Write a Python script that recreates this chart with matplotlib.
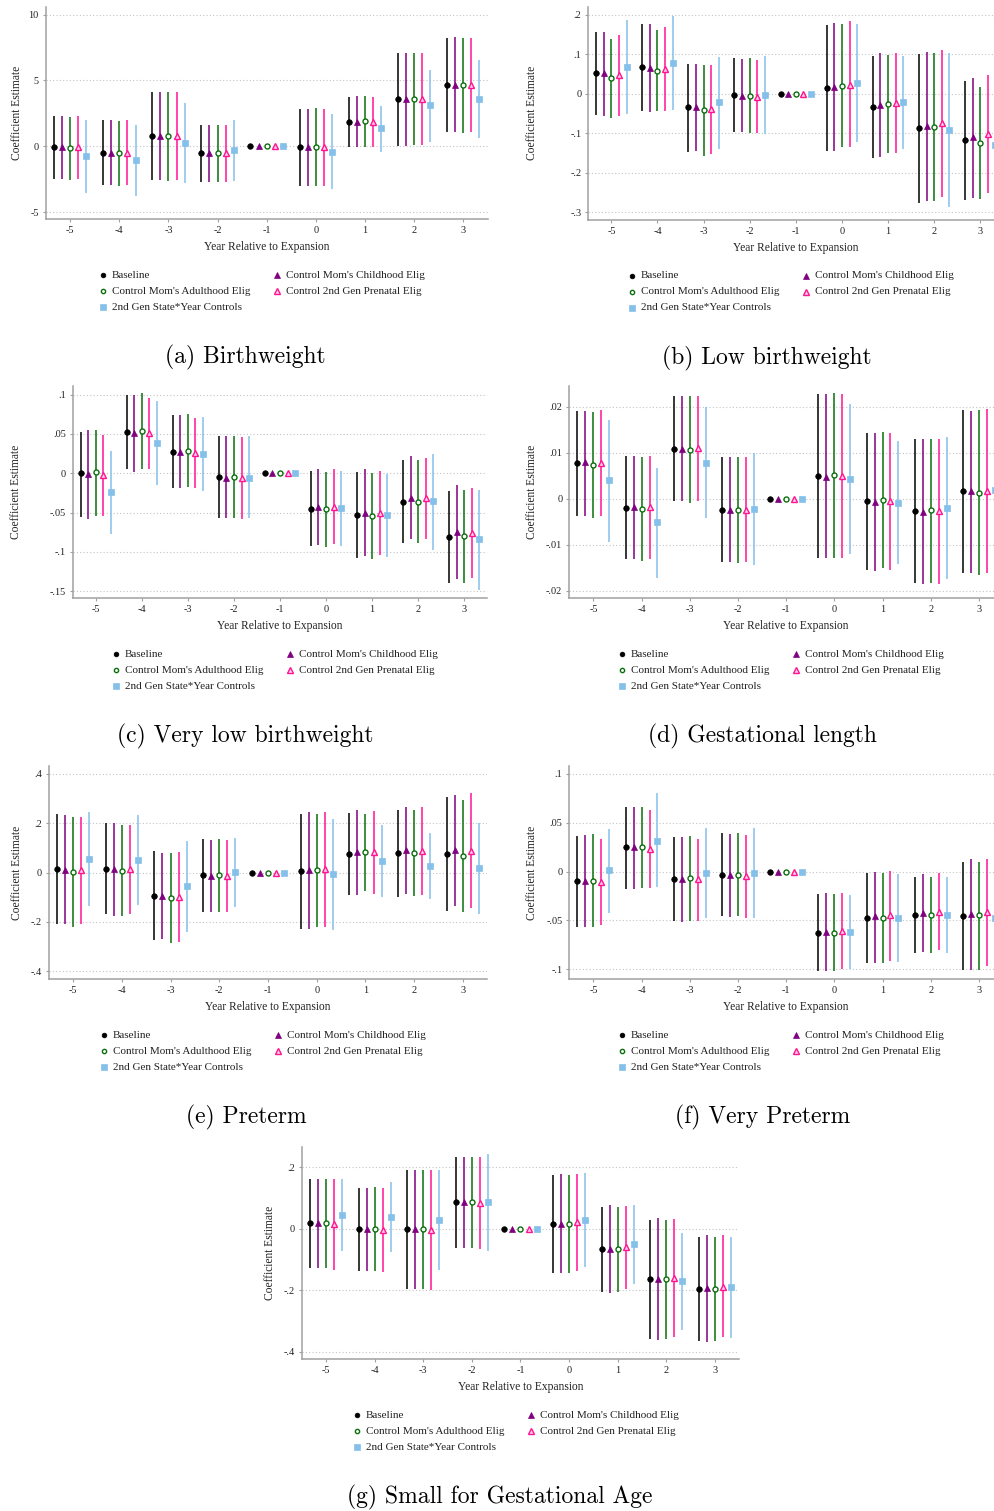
import numpy as np
import matplotlib.pyplot as plt

plt.rcParams['font.family'] = ['Liberation Serif', 'DejaVu Serif']

years = [-5, -4, -3, -2, -1, 0, 1, 2, 3]
year_labels = [str(y) for y in years]
series_names = ["Baseline", "Control Mom's Childhood Elig", "Control Mom's Adulthood Elig",
                "Control 2nd Gen Prenatal Elig", "2nd Gen State*Year Controls"]

# rows = series (same order as series_names), columns = years
# (a) Birthweight
bw_est = [[-0.08, -0.49, 0.80, -0.54, 0, -0.06, 1.86, 3.56, 4.67],
          [-0.08, -0.49, 0.80, -0.51, 0, -0.06, 1.86, 3.56, 4.67],
          [-0.16, -0.54, 0.75, -0.54, 0, -0.03, 1.89, 3.59, 4.65],
          [-0.06, -0.49, 0.80, -0.51, 0, -0.06, 1.86, 3.56, 4.65],
          [-0.77, -1.07, 0.22, -0.31, 0, -0.41, 1.36, 3.10, 3.56]]
bw_lo = [[-2.50, -2.97, -2.57, -2.72, 0, -3.02, -0.03, 0.04, 1.10],
         [-2.50, -2.97, -2.57, -2.72, 0, -3.02, -0.08, 0.04, 1.05],
         [-2.57, -3.02, -2.62, -2.72, 0, -3.00, -0.03, 0.07, 1.03],
         [-2.50, -2.97, -2.57, -2.72, 0, -3.02, -0.03, 0.09, 1.10],
         [-3.53, -3.76, -2.82, -2.62, 0, -3.28, -0.41, 0.35, 0.60]]
bw_hi = [[2.30, 2.00, 4.14, 1.61, 0, 2.85, 3.77, 7.11, 8.22],
         [2.30, 2.00, 4.14, 1.61, 0, 2.85, 3.82, 7.11, 8.27],
         [2.25, 1.94, 4.09, 1.61, 0, 2.88, 3.82, 7.11, 8.20],
         [2.30, 2.00, 4.14, 1.61, 0, 2.85, 3.77, 7.06, 8.20],
         [2.00, 1.61, 3.25, 2.00, 0, 2.45, 3.05, 5.79, 6.55]]
bw_yticks = [-5, 0, 5, 10]
bw_ylabels = ['-5', '0', '5', '10']

# (b) Low birthweight
lbw_est = [[0.052, 0.067, -0.034, -0.004, 0, 0.015, -0.034, -0.088, -0.118],
           [0.052, 0.066, -0.034, -0.005, 0, 0.018, -0.029, -0.082, -0.110],
           [0.039, 0.058, -0.042, -0.005, 0, 0.020, -0.025, -0.085, -0.125],
           [0.047, 0.063, -0.039, -0.008, 0, 0.022, -0.024, -0.075, -0.101],
           [0.067, 0.077, -0.022, -0.004, 0, 0.026, -0.022, -0.093, -0.131]]
lbw_lo = [[-0.054, -0.043, -0.147, -0.097, 0, -0.144, -0.163, -0.276, -0.269],
          [-0.056, -0.046, -0.145, -0.098, 0, -0.144, -0.161, -0.272, -0.263],
          [-0.061, -0.044, -0.158, -0.100, 0, -0.136, -0.149, -0.272, -0.266],
          [-0.056, -0.045, -0.153, -0.100, 0, -0.136, -0.151, -0.262, -0.252],
          [-0.052, -0.042, -0.141, -0.103, 0, -0.121, -0.139, -0.286, -0.280]]
lbw_hi = [[0.156, 0.176, 0.076, 0.089, 0, 0.174, 0.096, 0.100, 0.032],
          [0.156, 0.176, 0.074, 0.087, 0, 0.178, 0.102, 0.106, 0.039],
          [0.139, 0.160, 0.072, 0.090, 0, 0.176, 0.097, 0.102, 0.016],
          [0.149, 0.168, 0.072, 0.085, 0, 0.183, 0.102, 0.110, 0.047],
          [0.186, 0.196, 0.094, 0.095, 0, 0.176, 0.095, 0.102, 0.020]]
lbw_yticks = [-0.3, -0.2, -0.1, 0, 0.1, 0.2]
lbw_ylabels = ['-.3', '-.2', '-.1', '0', '.1', '.2']

# (c) Very low birthweight
vlbw_est = [[0.000, 0.052, 0.027, -0.0050, 0, -0.0450, -0.0530, -0.0360, -0.0810],
            [-0.0015, 0.051, 0.027, -0.0057, 0, -0.0435, -0.0500, -0.0310, -0.0750],
            [0.001, 0.054, 0.028, -0.0044, 0, -0.0456, -0.0545, -0.0360, -0.0800],
            [-0.002, 0.051, 0.026, -0.0057, 0, -0.0430, -0.0500, -0.0320, -0.0755],
            [-0.024, 0.039, 0.024, -0.0057, 0, -0.0447, -0.0536, -0.0358, -0.0842]]
vlbw_lo = [[-0.055, 0.0050, -0.019, -0.057, 0, -0.0920, -0.108, -0.089, -0.139],
           [-0.058, 0.0015, -0.019, -0.057, 0, -0.0915, -0.105, -0.084, -0.135],
           [-0.054, 0.0058, -0.018, -0.057, 0, -0.0935, -0.109, -0.089, -0.139],
           [-0.054, 0.0058, -0.019, -0.058, 0, -0.0900, -0.104, -0.083, -0.133],
           [-0.077, -0.0155, -0.023, -0.057, 0, -0.0920, -0.107, -0.097, -0.148]]
vlbw_hi = [[0.053, 0.100, 0.074, 0.0480, 0, 0.0024, 0.0015, 0.0170, -0.023],
           [0.055, 0.100, 0.074, 0.0470, 0, 0.0050, 0.0050, 0.0220, -0.015],
           [0.055, 0.102, 0.075, 0.0470, 0, 0.0015, 0.0000, 0.0164, -0.021],
           [0.049, 0.096, 0.070, 0.0465, 0, 0.0050, 0.0024, 0.0190, -0.019],
           [0.028, 0.092, 0.071, 0.0470, 0, 0.0024, -0.0010, 0.0244, -0.021]]
vlbw_yticks = [-0.15, -0.1, -0.05, 0, 0.05, 0.1]
vlbw_ylabels = ['-.15', '-.1', '-.05', '0', '.05', '.1']

# (d) Gestational length
gest_est = [[0.0077, -0.0019, 0.0109, -0.0024, 0, 0.0049, -0.0005, -0.0027, 0.0016],
            [0.0079, -0.0018, 0.0109, -0.0024, 0, 0.0048, -0.0006, -0.0028, 0.0016],
            [0.0073, -0.0022, 0.0106, -0.0025, 0, 0.0051, -0.0003, -0.0025, 0.0013],
            [0.0078, -0.0018, 0.0110, -0.0024, 0, 0.0049, -0.0005, -0.0027, 0.0016],
            [0.0040, -0.0051, 0.0077, -0.0022, 0, 0.0042, -0.0008, -0.0021, 0.0019]]
gest_lo = [[-0.0037, -0.0131, -0.0005, -0.0138, 0, -0.0129, -0.0154, -0.0183, -0.0162],
           [-0.0037, -0.0131, -0.0005, -0.0138, 0, -0.0129, -0.0156, -0.0186, -0.0162],
           [-0.0042, -0.0136, -0.0010, -0.0140, 0, -0.0128, -0.0151, -0.0182, -0.0165],
           [-0.0037, -0.0131, -0.0005, -0.0138, 0, -0.0129, -0.0155, -0.0186, -0.0162],
           [-0.0094, -0.0171, -0.0042, -0.0144, 0, -0.0120, -0.0141, -0.0175, -0.0138]]
gest_hi = [[0.0190, 0.0092, 0.0224, 0.0090, 0, 0.0227, 0.0144, 0.0130, 0.0193],
           [0.0190, 0.0092, 0.0224, 0.0090, 0, 0.0227, 0.0144, 0.0130, 0.0191],
           [0.0189, 0.0091, 0.0224, 0.0090, 0, 0.0229, 0.0146, 0.0130, 0.0192],
           [0.0192, 0.0092, 0.0224, 0.0090, 0, 0.0228, 0.0144, 0.0130, 0.0194],
           [0.0172, 0.0068, 0.0200, 0.0099, 0, 0.0205, 0.0126, 0.0135, 0.0175]]
gest_yticks = [-0.02, -0.01, 0, 0.01, 0.02]
gest_ylabels = ['-.02', '-.01', '0', '.01', '.02']

# (e) Preterm
pre_est = [[0.0135, 0.0160, -0.0930, -0.0110, 0, 0.0054, 0.074, 0.078, 0.074],
           [0.0120, 0.0135, -0.0946, -0.0135, 0, 0.0120, 0.085, 0.090, 0.090],
           [0.0014, 0.0068, -0.1010, -0.0110, 0, 0.0110, 0.082, 0.081, 0.069],
           [0.0120, 0.0135, -0.0970, -0.0135, 0, 0.0135, 0.084, 0.089, 0.089],
           [0.0540, 0.0500, -0.0550, 0.0014, 0, -0.0068, 0.046, 0.026, 0.0176]]
pre_lo = [[-0.209, -0.169, -0.274, -0.158, 0, -0.227, -0.092, -0.097, -0.154],
          [-0.209, -0.174, -0.269, -0.158, 0, -0.227, -0.089, -0.086, -0.135],
          [-0.222, -0.177, -0.286, -0.158, 0, -0.219, -0.074, -0.095, -0.158],
          [-0.207, -0.169, -0.280, -0.158, 0, -0.222, -0.086, -0.089, -0.143],
          [-0.136, -0.132, -0.239, -0.138, 0, -0.232, -0.100, -0.108, -0.166]]
pre_hi = [[0.238, 0.201, 0.088, 0.136, 0, 0.239, 0.240, 0.254, 0.305],
          [0.235, 0.201, 0.081, 0.132, 0, 0.245, 0.254, 0.265, 0.316],
          [0.224, 0.192, 0.081, 0.136, 0, 0.239, 0.239, 0.255, 0.296],
          [0.224, 0.192, 0.082, 0.132, 0, 0.245, 0.249, 0.265, 0.323],
          [0.245, 0.235, 0.128, 0.142, 0, 0.219, 0.192, 0.161, 0.201]]
pre_yticks = [-0.4, -0.2, 0, 0.2, 0.4]
pre_ylabels = ['-.4', '-.2', '0', '.2', '.4']

# (f) Very Preterm
vpre_est = [[-0.0099, 0.0246, -0.0072, -0.0038, 0, -0.0625, -0.0474, -0.0440, -0.0457],
            [-0.0099, 0.0246, -0.0072, -0.0038, 0, -0.0618, -0.0460, -0.0420, -0.0437],
            [-0.0092, 0.0253, -0.0068, -0.0038, 0, -0.0625, -0.0478, -0.0440, -0.0450],
            [-0.0106, 0.0235, -0.0078, -0.0044, 0, -0.0604, -0.0450, -0.0413, -0.0410],
            [0.0014, 0.0317, -0.0017, -0.0017, 0, -0.0621, -0.0478, -0.0447, -0.0474]]
vpre_lo = [[-0.0563, -0.0174, -0.0505, -0.0460, 0, -0.1014, -0.0939, -0.0830, -0.1010],
           [-0.0570, -0.0180, -0.0512, -0.0468, 0, -0.1014, -0.0932, -0.0820, -0.1010],
           [-0.0563, -0.0164, -0.0505, -0.0460, 0, -0.1020, -0.0939, -0.0830, -0.1007],
           [-0.0546, -0.0164, -0.0505, -0.0474, 0, -0.0993, -0.0911, -0.0799, -0.0962],
           [-0.0423, -0.0154, -0.0474, -0.0474, 0, -0.1000, -0.0925, -0.0830, -0.0970]]
vpre_hi = [[0.0365, 0.0660, 0.0355, 0.0390, 0, -0.0235, -0.0017, -0.0051, 0.0096],
           [0.0372, 0.0660, 0.0358, 0.0386, 0, -0.0222, 0.0000, -0.0030, 0.0133],
           [0.0379, 0.0660, 0.0365, 0.0390, 0, -0.0235, -0.0017, -0.0051, 0.0096],
           [0.0328, 0.0628, 0.0331, 0.0372, 0, -0.0222, 0.0007, -0.0017, 0.0133],
           [0.0440, 0.0799, 0.0447, 0.0447, 0, -0.0239, -0.0030, -0.0061, 0.0030]]
vpre_yticks = [-0.1, -0.05, 0, 0.05, 0.1]
vpre_ylabels = ['-.1', '-.05', '0', '.05', '.1']

# (g) Small for Gestational Age
sga_est = [[0.018, 0.000, 0.000, 0.0864, 0, 0.016, -0.065, -0.164, -0.195],
           [0.018, 0.000, 0.000, 0.0864, 0, 0.016, -0.065, -0.163, -0.193],
           [0.018, 0.000, 0.000, 0.0864, 0, 0.016, -0.065, -0.164, -0.195],
           [0.016, -0.003, -0.003, 0.0840, 0, 0.021, -0.060, -0.159, -0.188],
           [0.044, 0.0375, 0.028, 0.0864, 0, 0.028, -0.050, -0.169, -0.189]]
sga_lo = [[-0.126, -0.136, -0.194, -0.061, 0, -0.142, -0.204, -0.359, -0.364],
          [-0.126, -0.136, -0.194, -0.061, 0, -0.144, -0.207, -0.361, -0.369],
          [-0.128, -0.138, -0.194, -0.061, 0, -0.142, -0.204, -0.359, -0.365],
          [-0.134, -0.141, -0.198, -0.065, 0, -0.138, -0.195, -0.350, -0.351],
          [-0.072, -0.076, -0.133, -0.071, 0, -0.123, -0.180, -0.328, -0.355]]
sga_hi = [[0.162, 0.134, 0.192, 0.235, 0, 0.176, 0.072, 0.029, -0.025],
          [0.162, 0.134, 0.192, 0.235, 0, 0.179, 0.077, 0.034, -0.021],
          [0.162, 0.136, 0.192, 0.235, 0, 0.176, 0.072, 0.029, -0.025],
          [0.162, 0.134, 0.191, 0.235, 0, 0.179, 0.074, 0.031, -0.021],
          [0.162, 0.153, 0.190, 0.242, 0, 0.181, 0.079, -0.0146, -0.025]]
sga_yticks = [-0.4, -0.2, 0, 0.2]
sga_ylabels = ['-.4', '-.2', '0', '.2']

# style per series
offsets = [-0.33, -0.165, 0.0, 0.165, 0.33]
line_colors = ['black', '#800080', '#0a6e0a', '#ff1493', '#85c0ea']
marker_kw = [
    dict(marker='o', ms=4.0, mfc='black', mec='black', mew=0.5),
    dict(marker='^', ms=4.6, mfc='#800080', mec='#800080', mew=0.5),
    dict(marker='o', ms=3.6, mfc='white', mec='#0a6e0a', mew=1.0),
    dict(marker='^', ms=4.6, mfc='#ffd0e6', mec='#ff1493', mew=1.0),
    dict(marker='s', ms=4.4, mfc='#85c0ea', mec='#85c0ea', mew=0.5),
]

W, H = 994, 1511
fig = plt.figure(figsize=(W / 100, H / 100), dpi=100)


def px_rect(l, t, r, b):
    return [l / W, 1 - b / H, (r - l) / W, (b - t) / H]


# (data, ticks, frame in pixels l,t,r,b, ylim, ylabel x, caption, caption x)
panels = [
    (bw_est, bw_lo, bw_hi, bw_yticks, bw_ylabels, (45.7, 7, 487.6, 219), (-5.53, 10.585), 17, '(a) Birthweight', 245.5),
    (lbw_est, lbw_lo, lbw_hi, lbw_yticks, lbw_ylabels, (588.3, 6.7, 1003.3, 220), (-0.3195, 0.220), 532, '(b) Low birthweight', 767),
    (vlbw_est, vlbw_lo, vlbw_hi, vlbw_yticks, vlbw_ylabels, (72.7, 386, 487.3, 598.3), (-0.159, 0.111), 16.5, '(c) Very low birthweight', 245.5),
    (gest_est, gest_lo, gest_hi, gest_yticks, gest_ylabels, (569.3, 386, 1003, 598.3), (-0.0216, 0.0245), 532, '(d) Gestational length', 762),
    (pre_est, pre_lo, pre_hi, pre_yticks, pre_ylabels, (48.7, 766, 487.3, 979), (-0.431, 0.432), 17, '(e) Preterm', 246),
    (vpre_est, vpre_lo, vpre_hi, vpre_yticks, vpre_ylabels, (569.3, 766, 1003, 979), (-0.110, 0.108), 532, '(f) Very Preterm', 762.5),
    (sga_est, sga_lo, sga_hi, sga_yticks, sga_ylabels, (301.7, 1146.7, 739.3, 1359.3), (-0.424, 0.267), 270, '(g) Small for Gestational Age', 500),
]

# overlay in pixel units for legends and captions
over = fig.add_axes([0, 0, 1, 1], zorder=5)
over.set_xlim(0, W)
over.set_ylim(H, 0)
over.axis('off')

txt_col = '#222222'
axis_col = '#a0a0a0'

for est, lo, hi, yt, yl, (l, t, r, b), ylim, ylab_x, caption, cap_x in panels:
    ax = fig.add_axes(px_rect(l, t, r, b))
    ax.set_xlim(-5.5, 3.5)
    ax.set_ylim(*ylim)
    for k in range(5):
        xs = np.array(years) + offsets[k]
        ax.vlines(xs, lo[k], hi[k], color=line_colors[k], lw=1.1, zorder=2)
        ax.plot(xs, est[k], ls='none', zorder=3, **marker_kw[k])
    ax.set_xticks(years)
    ax.set_xticklabels(year_labels)
    ax.set_yticks(yt)
    ax.set_yticklabels(yl)
    ax.grid(axis='y', ls=(0, (1, 2)), color='#c4c4c4', lw=0.8)
    ax.set_axisbelow(True)
    for s in ['top', 'right']:
        ax.spines[s].set_visible(False)
    for s in ['left', 'bottom']:
        ax.spines[s].set_color(axis_col)
        ax.spines[s].set_linewidth(1.1)
    ax.tick_params(labelsize=7.4, colors=axis_col, labelcolor=txt_col, length=2.5, width=0.8, pad=2.5)
    ax.set_xlabel('Year Relative to Expansion', fontsize=8.3, color=txt_col, va='center')
    ax.xaxis.set_label_coords(0.5, -28.0 / (b - t))
    ax.set_ylabel('Coefficient Estimate', fontsize=8.3, color=txt_col, va='center')
    ax.yaxis.set_label_coords((ylab_x - l) / (r - l), 0.5)

    # legend: two columns, three rows
    cx = (l + r) / 2
    col_x = [cx - 164, cx - 164, cx - 164, cx + 10, cx + 10]
    row_y = [b + 56, b + 72, b + 88, b + 56, b + 72]
    order = [0, 2, 4, 1, 3]
    for slot, k in enumerate(order):
        kw = dict(marker_kw[k])
        kw['ms'] = kw['ms'] * 0.85
        over.plot([col_x[slot]], [row_y[slot]], ls='none', **kw)
        over.text(col_x[slot] + 9, row_y[slot], series_names[k], fontsize=8.0,
                  color=txt_col, va='center', ha='left')

    over.text(cap_x, b + 138, caption, fontsize=17, family='cmr10',
              ha='center', va='center', color='black')

fig.savefig('out.png', dpi=100)
